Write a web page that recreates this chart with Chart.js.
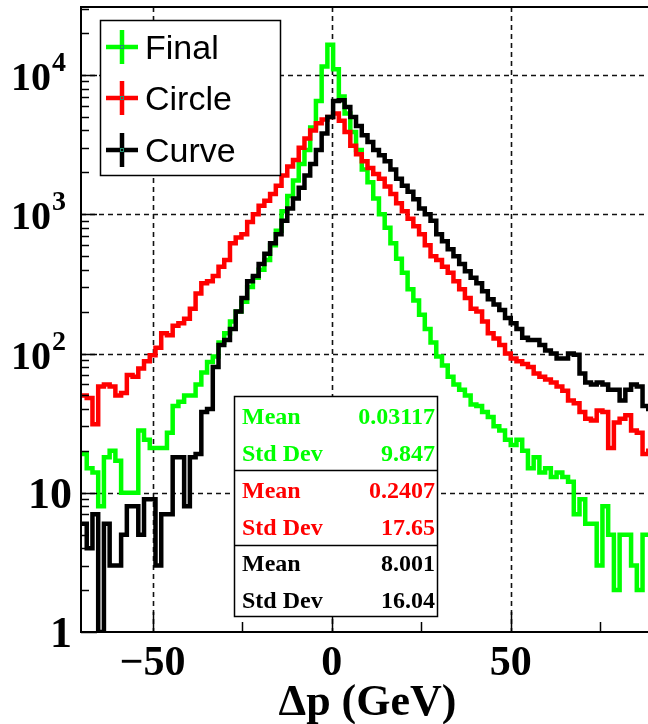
<!DOCTYPE html>
<html>
<head>
<meta charset="utf-8">
<script src="https://cdn.jsdelivr.net/npm/chart.js@4.4.1/dist/chart.umd.min.js"></script>
<style>
    html, body { margin: 0; padding: 0; background: #fff; overflow: hidden; width: 648px; height: 724px; }
    #wrap { position: relative; width: 660px; height: 724px; }
</style>
</head>
<body>
<div id="wrap"><canvas id="dp-chart" width="660" height="724"></canvas></div>
<script>
// Histogram binning: 100 bins from -70 to 90 GeV
const BIN_START = -70;
const BIN_WIDTH = 1.6;

// Bin contents, one per bin (left to right)
const finalCounts = [
    19, 15, 14, 8, 18, 20, 17, 10, 10, 10,
    28, 24, 21, 21, 21, 27, 42, 45, 50, 50,
    60, 73, 87, 95, 120, 140, 170, 200, 235, 300,
    350, 400, 470, 600, 760, 1050, 1350, 1750, 2300, 2900,
    4200, 6500, 11500, 16500, 11000, 7000, 5300, 3900, 2900, 2100,
    1700, 1300, 1000, 800, 620, 480, 380, 290, 240, 190,
    150, 120, 95, 82, 68, 60, 55, 50, 43, 42,
    38, 35, 30, 28, 24, 22, 24, 20, 15, 18,
    14, 15, 13, 14, 13, 12, 7, 9, 6, 6,
    3, 8, 5, 2, 5, 5, 3, 2, 5, 5
];
const circleCounts = [
    50, 48, 31, 58, 60, 58, 50, 52, 70, 68,
    78, 88, 97, 110, 140, 135, 158, 165, 178, 210,
    270, 320, 330, 360, 420, 470, 620, 680, 720, 880,
    1000, 1150, 1250, 1400, 1600, 1900, 2200, 2450, 3000, 3500,
    4000, 4500, 4800, 5000, 5300, 4700, 3900, 3100, 2700, 2400,
    2150, 1950, 1800, 1580, 1400, 1200, 1050, 930, 820, 720,
    600, 500, 470, 420, 380, 330, 290, 250, 210, 200,
    170, 140, 128, 115, 100, 92, 88, 84, 80, 72,
    68, 65, 62, 58, 54, 46, 44, 38, 34, 33,
    39, 38, 21, 32, 34, 36, 28, 27, 19, 20
];
const curveCounts = [
    6, 4, 7, 1, 6, 3, 3, 5, 8, 8,
    5, 9, 9, 3, 7, 7, 18, 18, 8, 18,
    19, 38, 40, 80, 115, 125, 150, 200, 250, 330,
    360, 440, 520, 620, 720, 900, 1100, 1300, 1550, 1900,
    2300, 2900, 3800, 5000, 6500, 6600, 5900, 5000, 4300, 3700,
    3300, 2900, 2650, 2400, 2100, 1800, 1600, 1450, 1280, 1100,
    1000, 900, 720, 640, 560, 500, 440, 390, 350, 320,
    280, 245, 225, 205, 180, 165, 150, 130, 125, 125,
    115, 105, 100, 92, 92, 100, 98, 72, 62, 60,
    62, 60, 55, 55, 46, 55, 60, 58, 42, 40
];

// Axis ticks
const xMajorTicks = [-50, 0, 50];
const xMinorTicks = [-25, 25, 75];
const xTickLabels = ['\u221250', '0', '50'];
const yDecades = [1, 10, 100, 1000, 10000];

// Legend and stats box
const seriesNames = ['Final', 'Circle', 'Curve'];
const seriesColors = ['#00ff00', '#ff0000', '#000000'];
const statMeans = ['0.03117', '0.2407', '8.001'];
const statStdDevs = ['9.847', '17.65', '16.04'];

const SERIF = '"Liberation Serif", "Times New Roman", serif';
const SANS = '"Liberation Sans", Arial, sans-serif';

function toSteps(counts) {
    // points at bin edges, drawn with stepped lines
    const pts = counts.map((v, i) => ({ x: BIN_START + i * BIN_WIDTH, y: v }));
    pts.push({ x: BIN_START + counts.length * BIN_WIDTH, y: counts[counts.length - 1] });
    return pts;
}

const rootStyle = {
    id: 'rootStyle',
    beforeDatasetsDraw(chart) {
        const { ctx, chartArea: a, scales: { x, y } } = chart;
        ctx.save();
        ctx.strokeStyle = '#111';
        ctx.lineWidth = 1.6;
        ctx.setLineDash([5, 4]);
        xMajorTicks.forEach(v => {
            const px = Math.round(x.getPixelForValue(v)) + 0.5;
            ctx.beginPath(); ctx.moveTo(px, a.top); ctx.lineTo(px, a.bottom); ctx.stroke();
        });
        yDecades.slice(1).forEach(v => {
            const py = Math.round(y.getPixelForValue(v)) + 0.5;
            ctx.beginPath(); ctx.moveTo(a.left, py); ctx.lineTo(a.right, py); ctx.stroke();
        });
        ctx.restore();
    },
    afterDatasetsDraw(chart) {
        const { ctx, chartArea: a, scales: { x, y } } = chart;
        ctx.save();
        ctx.setLineDash([]);
        ctx.strokeStyle = '#000';

        // inner ticks
        ctx.lineWidth = 1.5;
        for (let d = 1; d <= 10000; d *= 10) {
            for (let m = 2; m <= 9; m++) {
                const v = m * d;
                if (v > y.max) break;
                const py = Math.round(y.getPixelForValue(v)) + 0.5;
                ctx.beginPath(); ctx.moveTo(a.left, py); ctx.lineTo(a.left + 8, py); ctx.stroke();
            }
        }
        yDecades.forEach(v => {
            const py = Math.round(y.getPixelForValue(v)) + 0.5;
            ctx.beginPath(); ctx.moveTo(a.left, py); ctx.lineTo(a.left + 16, py); ctx.stroke();
        });
        xMinorTicks.forEach(v => {
            const px = Math.round(x.getPixelForValue(v)) + 0.5;
            ctx.beginPath(); ctx.moveTo(px, a.bottom); ctx.lineTo(px, a.bottom - 10); ctx.stroke();
        });
        xMajorTicks.forEach(v => {
            const px = Math.round(x.getPixelForValue(v)) + 0.5;
            ctx.beginPath(); ctx.moveTo(px, a.bottom); ctx.lineTo(px, a.bottom - 20); ctx.stroke();
        });

        // frame
        ctx.lineWidth = 2;
        ctx.strokeRect(a.left, a.top, a.right - a.left, a.bottom - a.top);

        // x tick labels and title
        ctx.fillStyle = '#000';
        ctx.textBaseline = 'alphabetic';
        ctx.textAlign = 'center';
        ctx.font = 'bold 42px ' + SERIF;
        xMajorTicks.forEach((v, i) => {
            ctx.fillText(xTickLabels[i], x.getPixelForValue(v), 675);
        });
        ctx.font = 'bold 44px ' + SERIF;
        ctx.fillText('\u0394p (GeV)', (a.left + a.right) / 2, 715);

        // y tick labels: 1, 10, 10^2 ...
        yDecades.forEach((v, i) => {
            const py = y.getPixelForValue(v);
            if (i < 2) {
                ctx.textAlign = 'right';
                ctx.font = 'bold 44px ' + SERIF;
                ctx.fillText(String(v), 72, py + 15);
            } else {
                ctx.textAlign = 'right';
                ctx.font = 'bold 40px ' + SERIF;
                ctx.fillText('10', 51, py + 15);
                ctx.textAlign = 'left';
                ctx.font = 'bold 28px ' + SERIF;
                ctx.fillText(String(i), 52, py - 4);
            }
        });

        // legend box
        ctx.fillStyle = '#fff';
        ctx.fillRect(100, 20, 181, 156);
        ctx.lineWidth = 1.5;
        ctx.strokeRect(100.5, 20.5, 180, 155);
        const rows = [47, 98, 150];
        seriesNames.forEach((name, i) => {
            const cy = rows[i];
            ctx.strokeStyle = seriesColors[i];
            ctx.lineWidth = 4.5;
            ctx.beginPath();
            ctx.moveTo(106, cy); ctx.lineTo(138, cy);
            ctx.moveTo(122, cy - 17); ctx.lineTo(122, cy + 17);
            ctx.stroke();
            ctx.strokeStyle = '#1f8f6f';
            ctx.lineWidth = 1;
            ctx.strokeRect(120.5, cy - 1.5, 3, 3);
            ctx.fillStyle = '#000';
            ctx.textAlign = 'left';
            ctx.font = '34px ' + SANS;
            ctx.fillText(name, 145, cy + 12);
        });

        // stats box
        ctx.fillStyle = '#fff';
        ctx.fillRect(234, 396, 204, 221);
        ctx.strokeStyle = '#000';
        ctx.lineWidth = 1.5;
        ctx.strokeRect(234.5, 396.5, 203, 220);
        [470.5, 545.5].forEach(py => {
            ctx.beginPath(); ctx.moveTo(234, py); ctx.lineTo(438, py); ctx.stroke();
        });
        const base = [424, 498, 571];
        ctx.font = 'bold 24px ' + SERIF;
        seriesNames.forEach((name, i) => {
            ctx.fillStyle = seriesColors[i];
            ctx.textAlign = 'left';
            ctx.fillText('Mean', 242, base[i]);
            ctx.fillText('Std Dev', 242, base[i] + 37);
            ctx.textAlign = 'right';
            ctx.fillText(statMeans[i], 435, base[i]);
            ctx.fillText(statStdDevs[i], 435, base[i] + 37);
        });
        ctx.restore();
    }
};

function stepDataset(label, counts, color, order) {
    return {
        label: label,
        data: toSteps(counts),
        borderColor: color,
        borderWidth: 4.5,
        stepped: true,
        pointRadius: 0,
        fill: false,
        order: order
    };
}

new Chart(document.getElementById('dp-chart').getContext('2d'), {
    type: 'line',
    data: {
        datasets: [
            stepDataset('Curve', curveCounts, seriesColors[2], 0),
            stepDataset('Circle', circleCounts, seriesColors[1], 1),
            stepDataset('Final', finalCounts, seriesColors[0], 2)
        ]
    },
    options: {
        responsive: false,
        animation: false,
        events: [],
        layout: { padding: { left: 0, top: 7, right: 6, bottom: 0 } },
        plugins: {
            legend: { display: false },
            tooltip: { enabled: false }
        },
        scales: {
            x: {
                type: 'linear',
                min: BIN_START,
                max: 90,
                afterFit: s => { s.height = 92; },
                ticks: { display: false },
                grid: { display: false },
                border: { display: false }
            },
            y: {
                type: 'logarithmic',
                min: 1,
                max: 30800,
                afterFit: s => { s.width = 81; },
                ticks: { display: false },
                grid: { display: false },
                border: { display: false }
            }
        }
    },
    plugins: [rootStyle]
});
</script>
</body>
</html>
